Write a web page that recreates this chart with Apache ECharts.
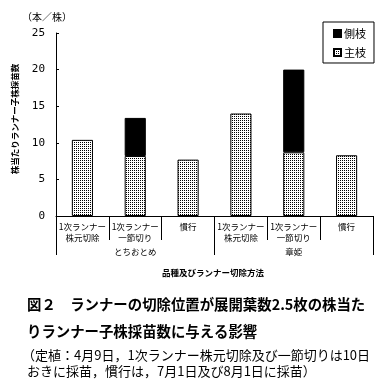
<!DOCTYPE html>
<html>
<head>
<meta charset="utf-8">
<script src="https://cdn.jsdelivr.net/npm/echarts@6/dist/echarts.min.js"></script>
<style>
html,body{margin:0;padding:0;background:#fff;}
#chart{width:388px;height:387px;}
</style>
</head>
<body>
<div id="chart"></div>
<script>
// ---- data ----
var categories = ['1次ランナー\n株元切除', '1次ランナー\n一節切り', '慣行', '1次ランナー\n株元切除', '1次ランナー\n一節切り', '慣行'];
var groups = ['とちおとめ', '章姫'];
var mainBranch = [10.4, 8.2, 7.7, 14.0, 8.7, 8.3];   // 主枝
var sideBranch = ['-', 5.2, '-', '-', 11.3, '-'];    // 側枝
var yTicks = [0, 5, 10, 15, 20, 25];
var seriesNames = ['側枝', '主枝'];
var unitText = '（本／株）';
var yTitle = '株当たりランナー子株採苗数';
var xTitle = '品種及びランナー切除方法';
var captionLines = [
  '図２　ランナーの切除位置が展開葉数2.5枚の株当た',
  'りランナー子株採苗数に与える影響',
  '（定植：4月9日，1次ランナー株元切除及び一節切りは10日',
  'おきに採苗，慣行は，7月1日及び8月1日に採苗）'
];

var FONT = '"Noto Sans CJK JP", sans-serif';

// dotted pattern for 主枝
var pc = document.createElement('canvas');
pc.width = 2; pc.height = 2;
var pctx = pc.getContext('2d');
pctx.fillStyle = '#fff'; pctx.fillRect(0, 0, 2, 2);
pctx.fillStyle = '#000'; pctx.fillRect(0, 0, 1, 1);
var dotPattern = { image: pc, repeat: 'repeat' };

var chart = echarts.init(document.getElementById('chart'), null, { renderer: 'canvas' });
var option = {
  backgroundColor: '#fff',
  animation: false,
  textStyle: { fontFamily: FONT, color: '#000' },
  grid: { left: 56, right: 15, top: 33, bottom: 171 },
  legend: {
    data: seriesNames,
    orient: 'vertical',
    left: 323, top: 22,
    borderColor: '#000', borderWidth: 1,
    padding: [6, 8, 5, 10],
    itemWidth: 7, itemHeight: 7, itemGap: 8,
    icon: 'rect',
    selectedMode: false,
    textStyle: { fontSize: 11, fontFamily: FONT, color: '#000', padding: [0, 0, 0, -2] }
  },
  xAxis: [{
    type: 'category',
    data: categories,
    axisLine: { show: true, lineStyle: { color: '#000', width: 1 } },
    axisTick: { show: true, interval: 0, length: 24, lineStyle: { color: '#000' } },
    axisLabel: { interval: 0, fontSize: 8.5, lineHeight: 11, margin: 5, color: '#000', fontFamily: FONT },
    splitLine: { show: false }
  }, {
    type: 'category',
    data: groups,
    position: 'bottom',
    axisLine: { show: false },
    axisTick: { show: true, interval: 0, length: 39, lineStyle: { color: '#000' } },
    axisLabel: { interval: 0, fontSize: 8.5, lineHeight: 11, margin: 30, color: '#000', fontFamily: FONT },
    splitLine: { show: false }
  }],
  yAxis: {
    type: 'value',
    min: yTicks[0], max: yTicks[yTicks.length - 1], interval: 5,
    axisLine: { show: true, lineStyle: { color: '#000', width: 1 } },
    axisTick: { show: true, inside: true, length: 3, lineStyle: { color: '#000' } },
    axisLabel: { fontSize: 11, margin: 11, color: '#000', fontFamily: '"DejaVu Sans Mono", monospace' },
    splitLine: { show: false }
  },
  series: [{
    name: '主枝',
    type: 'bar',
    stack: 'total',
    xAxisIndex: 0,
    barWidth: '40%',
    data: mainBranch,
    itemStyle: { color: dotPattern, borderColor: '#000', borderWidth: 1 }
  }, {
    name: '側枝',
    type: 'bar',
    stack: 'total',
    xAxisIndex: 0,
    barWidth: '40%',
    data: sideBranch,
    itemStyle: { color: '#000', borderColor: '#000', borderWidth: 1 }
  }],
  graphic: [
    { type: 'text', left: 22, top: 12, style: { text: unitText, font: '10px ' + FONT, fill: '#000' } },
    { type: 'text', x: 15, y: 119, rotation: Math.PI / 2,
      style: { text: yTitle, font: 'bold 8.5px ' + FONT, fill: '#000', align: 'center', verticalAlign: 'middle' } },
    { type: 'text', x: 213, y: 273,
      style: { text: xTitle, font: 'bold 8.5px ' + FONT, fill: '#000', align: 'center', verticalAlign: 'middle' } },
    { type: 'text', x: 27, y: 305, style: { text: captionLines[0], font: 'bold 14.4px ' + FONT, fill: '#000', verticalAlign: 'middle' } },
    { type: 'text', x: 27, y: 332, style: { text: captionLines[1], font: 'bold 14.4px ' + FONT, fill: '#000', verticalAlign: 'middle' } },
    { type: 'text', x: 22, y: 355, style: { text: captionLines[2], font: '13px ' + FONT, fill: '#000', verticalAlign: 'middle' } },
    { type: 'text', x: 27, y: 371, style: { text: captionLines[3], font: '13px ' + FONT, fill: '#000', verticalAlign: 'middle' } }
  ]
};
chart.setOption(option);
</script>
</body>
</html>
